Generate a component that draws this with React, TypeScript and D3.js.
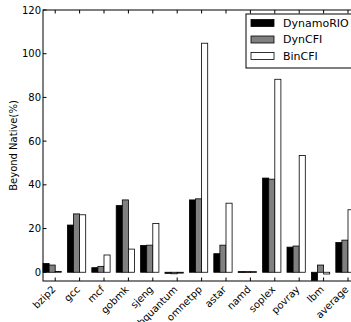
import React from 'react';
import * as d3 from 'd3';

// benchmarks and overhead (%)
const benchmarks = ['bzip2', 'gcc', 'mcf', 'gobmk', 'sjeng', 'libquantum', 'omnetpp', 'astar', 'namd', 'soplex', 'povray', 'lbm', 'average'];
const dynamoRIO = [4.0, 21.6, 2.1, 30.5, 12.3, -0.5, 33.1, 8.5, 0.3, 43.1, 11.5, -3.7, 13.6];
const dynCFI = [3.3, 26.7, 2.7, 33.1, 12.4, -0.7, 33.6, 12.4, 0.3, 42.6, 12.0, 3.3, 14.7];
const binCFI = [0.4, 26.3, 7.9, 10.6, 22.3, -0.4, 104.8, 31.6, 0.3, 88.3, 53.4, -0.8, 28.6];
const seriesNames = ['DynamoRIO', 'DynCFI', 'BinCFI'];
const seriesFills = ['#000000', '#808080', '#ffffff'];
const yTicks = [0, 20, 40, 60, 80, 100, 120];

const W = 351;
const H = 322;
const margin = {top: 10, left: 43, bottom: 281};
const font = 'DejaVu Sans, sans-serif';

const App = () => {
    const series = [dynamoRIO, dynCFI, binCFI];

    // one unit per benchmark, bars 0.25 wide, tick at the third bar
    const x = d3.scaleLinear().domain([0, 13]).range([margin.left, margin.left + 13 * 24.4]);
    const y = d3.scaleLinear().domain([-4, 120]).range([margin.bottom, margin.top]);
    const bw = 0.25;
    const right = x(13);

    return (
        <svg width={W} height={H} style={{position: 'absolute', left: 0, top: 0, background: '#fff'}}>
            {/* bars */}
            {series.map((vals, s) => (
                <g key={seriesNames[s]}>
                    {vals.map((v, i) => {
                        const x0 = x(i + s * bw);
                        const y0 = Math.min(y(v), y(0));
                        const h = Math.abs(y(v) - y(0));
                        return (
                            <rect key={i} x={x0} y={y0} width={x(i + (s + 1) * bw) - x0} height={Math.max(h, 0.8)}
                                  fill={seriesFills[s]} stroke="#000" strokeWidth={0.8}/>
                        );
                    })}
                </g>
            ))}

            {/* frame */}
            <rect x={margin.left} y={margin.top} width={right - margin.left} height={margin.bottom - margin.top}
                  fill="none" stroke="#000" strokeWidth={1}/>

            {/* y ticks */}
            {yTicks.map(t => (
                <g key={t}>
                    <line x1={margin.left} x2={margin.left + 3.5} y1={y(t)} y2={y(t)} stroke="#000"/>
                    <text x={margin.left - 2} y={y(t)} dy="0.35em" textAnchor="end" fontSize={10} fontFamily={font}>{t}</text>
                </g>
            ))}

            {/* x ticks */}
            {benchmarks.map((b, i) => {
                const tx = x(i + 2 * bw);
                return (
                    <g key={b}>
                        <line x1={tx} x2={tx} y1={margin.bottom} y2={margin.bottom - 3.5} stroke="#000"/>
                        <line x1={tx} x2={tx} y1={margin.top} y2={margin.top + 3.5} stroke="#000"/>
                        <text transform={`translate(${tx - 4},${margin.bottom + 4}) rotate(-45)`} dy="0.71em"
                              textAnchor="end" fontSize={10} fontFamily={font}>{b}</text>
                    </g>
                );
            })}

            <text transform={`translate(17,${(margin.top + margin.bottom) / 2}) rotate(-90)`} textAnchor="middle"
                  fontSize={10} fontFamily={font}>Beyond Native(%)</text>

            {/* legend */}
            <rect x={246} y={14} width={120} height={54} fill="#fff" stroke="#000" strokeWidth={1}/>
            {seriesNames.map((n, s) => (
                <g key={n} transform={`translate(251,${23 + s * 16.5})`}>
                    <rect x={0} y={-3.5} width={23} height={7} fill={seriesFills[s]} stroke="#000" strokeWidth={0.8}/>
                    <text x={32} y={0} dy="0.35em" fontSize={11} fontFamily={font}>{n}</text>
                </g>
            ))}
        </svg>
    );
};

export default App;
